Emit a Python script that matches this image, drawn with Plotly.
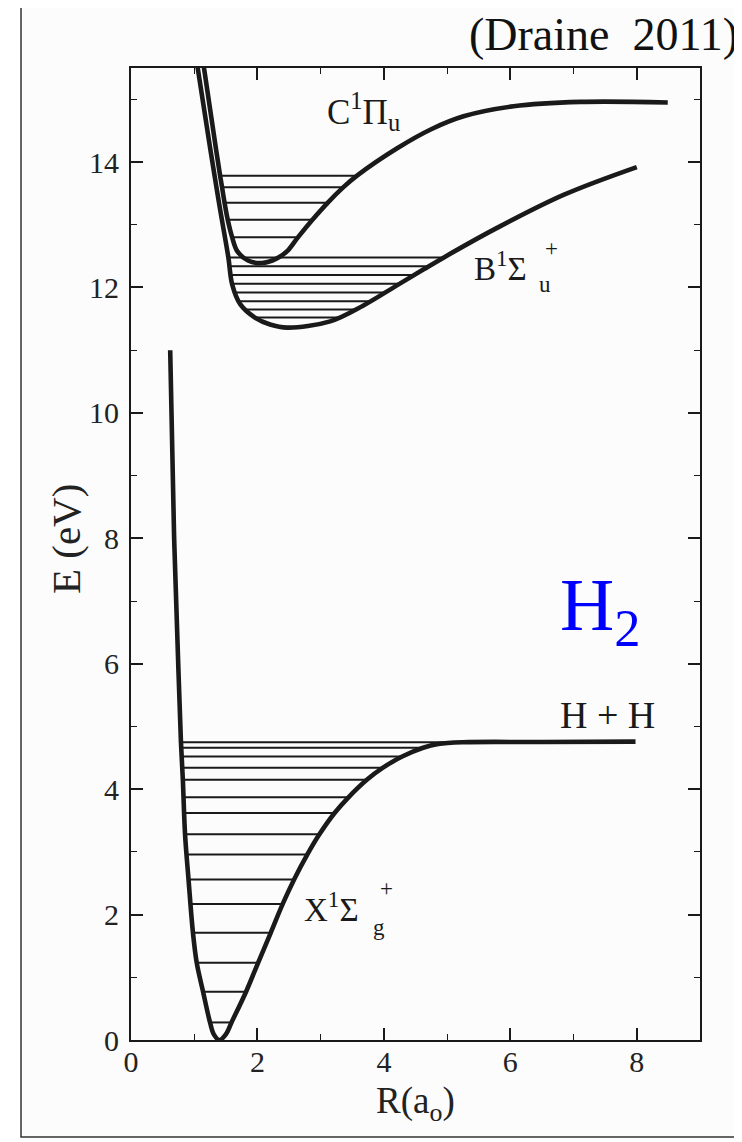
import plotly.graph_objects as go

# ---------------- data ----------------
# Ground state X 1Sigma_g+ potential curve
X_R = [0.62, 0.68, 0.75, 0.79, 0.82, 0.855, 0.91, 0.98, 1.04, 1.14, 1.25, 1.31, 1.40, 1.50,
       1.59, 1.82, 2.01, 2.21, 2.40, 2.58, 2.79, 2.98, 3.22, 3.44, 3.73, 3.98,
       4.29, 4.62, 4.86, 5.25, 6.50, 7.98]
X_E = [11.0, 8.1, 5.9, 4.75, 4.15, 3.28, 2.56, 1.71, 1.23, 0.77, 0.28, 0.09, 0.0, 0.09,
       0.28, 0.77, 1.23, 1.71, 2.17, 2.56, 2.96, 3.28, 3.62, 3.87, 4.15, 4.34,
       4.52, 4.66, 4.72, 4.748, 4.752, 4.758]

# vibrational levels of X
X_lev_E = [0.28, 0.77, 1.23, 1.71, 2.17, 2.56, 2.96, 3.28, 3.62, 3.87, 4.15, 4.34, 4.52, 4.66, 4.75]
X_lev_Rl = [1.25, 1.14, 1.04, 0.98, 0.935, 0.91, 0.88, 0.855, 0.84, 0.83, 0.82, 0.81, 0.80, 0.795, 0.79]
X_lev_Rr = [1.59, 1.82, 2.01, 2.21, 2.40, 2.58, 2.79, 2.98, 3.22, 3.44, 3.73, 3.98, 4.29, 4.62, 5.10]

# B 1Sigma_u+ curve
B_R = [1.04, 1.26, 1.40, 1.54, 1.60, 1.73, 1.96, 2.20, 2.47, 3.15, 3.67, 4.20, 4.63, 4.95, 5.79, 6.85, 8.00]
B_E = [15.6, 14.17, 13.30, 12.48, 12.05, 11.73, 11.52, 11.41, 11.36, 11.46, 11.71, 12.03, 12.29, 12.48, 12.95, 13.48, 13.92]
B_lev_E = [12.48, 12.34, 12.20, 12.06, 11.92, 11.78, 11.65, 11.52]
B_lev_Rl = [1.54, 1.56, 1.58, 1.60, 1.64, 1.70, 1.79, 1.96]
B_lev_Rr = [4.95, 4.71, 4.48, 4.25, 4.02, 3.79, 3.55, 3.27]

# C 1Pi_u curve
C_R = [1.14, 1.35, 1.41, 1.44, 1.48, 1.53, 1.60, 1.68, 1.85, 2.07, 2.30, 2.47, 2.64,
       2.87, 3.11, 3.36, 3.57, 4.21, 4.74, 5.26, 6.05, 7.11, 8.49]
C_E = [15.6, 14.17, 13.78, 13.60, 13.35, 13.08, 12.80, 12.58, 12.43, 12.39, 12.46, 12.58, 12.80,
       13.08, 13.35, 13.60, 13.78, 14.22, 14.52, 14.73, 14.89, 14.96, 14.95]
C_lev_E = [13.78, 13.60, 13.35, 13.08, 12.80]
C_lev_Rl = [1.41, 1.44, 1.48, 1.53, 1.60]
C_lev_Rr = [3.57, 3.36, 3.11, 2.87, 2.64]

x_tickvals = [0, 2, 4, 6, 8]
y_tickvals = [0, 2, 4, 6, 8, 10, 12, 14]

SERIF = "Liberation Serif, Times New Roman, serif"
INK = "#1a1a1a"


def level_segments(E, Rl, Rr):
    xs, ys = [], []
    for e, a, b in zip(E, Rl, Rr):
        xs += [a, b, None]
        ys += [e, e, None]
    return xs, ys


fig = go.Figure()

for E, Rl, Rr in [(X_lev_E, X_lev_Rl, X_lev_Rr), (B_lev_E, B_lev_Rl, B_lev_Rr), (C_lev_E, C_lev_Rl, C_lev_Rr)]:
    lx, ly = level_segments(E, Rl, Rr)
    fig.add_trace(go.Scatter(x=lx, y=ly, mode="lines", line=dict(color=INK, width=2),
                             hoverinfo="skip", showlegend=False))

for R, E in [(X_R, X_E), (B_R, B_E), (C_R, C_E)]:
    fig.add_trace(go.Scatter(x=R, y=E, mode="lines",
                             line=dict(color=INK, width=4.6, shape="spline", smoothing=1.0),
                             showlegend=False))

lab_font = dict(family=SERIF, size=33, color=INK)
small = dict(family=SERIF, size=23, color=INK)
ann = [
    dict(x=3.07, y=14.80, text="C<sup>1</sup>Π<sub>u</sub>", xanchor="left", yanchor="middle",
         font=dict(family=SERIF, size=35, color=INK)),
    dict(x=5.40, y=12.34, text="B<sup>1</sup>Σ", xanchor="left", yanchor="middle", font=lab_font),
    dict(x=6.52, y=12.62, text="+", xanchor="left", yanchor="middle", font=small),
    dict(x=6.42, y=12.05, text="u", xanchor="left", yanchor="middle", font=small),
    dict(x=2.70, y=2.12, text="X<sup>1</sup>Σ", xanchor="left", yanchor="middle", font=lab_font),
    dict(x=3.90, y=2.42, text="+", xanchor="left", yanchor="middle", font=small),
    dict(x=3.80, y=1.80, text="g", xanchor="left", yanchor="middle", font=small),
    dict(x=7.53, y=5.19, text="H + H", xanchor="center", yanchor="middle", font=dict(family=SERIF, size=38, color=INK)),
    dict(x=6.76, y=6.86, text="H<sub>2</sub>", xanchor="left", yanchor="middle",
         font=dict(family=SERIF, size=75, color="#0000ff")),
    dict(x=1.0703, y=1.034, xref="paper", yref="paper", text="(Draine&nbsp; 2011)", xanchor="right",
         yanchor="middle", font=dict(family=SERIF, size=46, color="#111111")),
    # axis titles
    dict(x=-0.1142, y=0.5154, xref="paper", yref="paper", text="E (eV)", textangle=-90,
         xanchor="center", yanchor="middle", font=dict(family=SERIF, size=41, color="#222222")),
    dict(x=0.5, y=-0.0395, xref="paper", yref="paper", text="R(a<sub>o</sub>)",
         xanchor="center", yanchor="top", font=dict(family=SERIF, size=37, color="#222222")),
]
for a in ann:
    a.setdefault("xref", "x")
    a.setdefault("yref", "y")
    a["showarrow"] = False
    fig.add_annotation(**a)

# outer frame
fig.add_shape(type="rect", xref="paper", yref="paper", x0=-0.1933, x1=1.08, y0=-0.0998, y1=1.0648,
              line=dict(color="#333333", width=1.5), fillcolor="#fbfcfb", layer="below")

axis_common = dict(showline=True, linecolor=INK, linewidth=2.2, mirror="ticks", ticks="inside",
                   ticklen=12, tickwidth=1.6, tickcolor=INK, showgrid=False, zeroline=False,
                   tickfont=dict(family=SERIF, size=30, color="#222222"))

fig.update_xaxes(range=[0, 9], tickvals=x_tickvals, ticktext=[str(v) for v in x_tickvals],
                 minor=dict(dtick=1, ticklen=6, tickwidth=1.4, tickcolor=INK, ticks="inside", tick0=0),
                 ticklabelstandoff=-6, **axis_common)
fig.update_yaxes(range=[0, 15.5], tickvals=y_tickvals, ticktext=[str(v) for v in y_tickvals],
                 minor=dict(dtick=1, ticklen=6, tickwidth=1.4, tickcolor=INK, ticks="inside", tick0=0),
                 ticklabelstandoff=4, **axis_common)

fig.update_layout(width=742, height=1142, margin=dict(l=123, r=50, t=60, b=110),
                  paper_bgcolor="white", plot_bgcolor="#fbfcfb", showlegend=False)

fig.write_html("out.html")
